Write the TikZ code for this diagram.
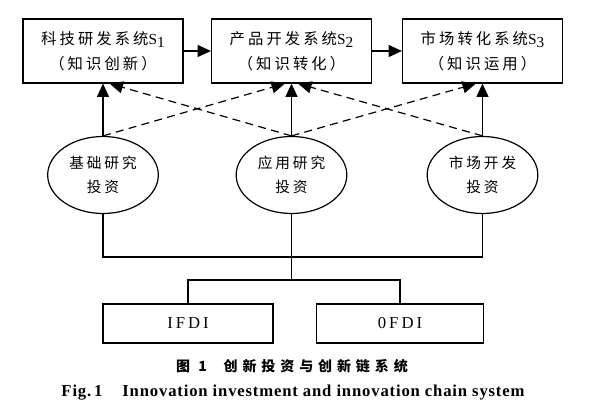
\documentclass[tikz,border=0pt]{standalone}
\usepackage{fontspec}
\setmainfont{Liberation Serif}
\newfontfamily\cjk{Noto Sans CJK SC}[LetterSpace=20]
\newfontfamily\cjkcap{Noto Sans CJK SC}[LetterSpace=35]
\newfontfamily\capfont{Liberation Serif}[LetterSpace=5]
\newfontfamily\fdifont{Liberation Serif}[LetterSpace=18]
\usetikzlibrary{arrows.meta,shapes.geometric}

\newcommand{\sysname}[2]{{\cjk #1}S\raisebox{-0.25em}{#2}}

\begin{document}
\begin{tikzpicture}[x=0.75pt,y=-0.75pt]
\tikzstyle{every node}+=[inner sep=0pt, align=center]
\tikzstyle{sysbox}=[draw, line width=0.9pt, minimum width=120pt, minimum height=48pt, font=\fontsize{11.5}{19}\selectfont]
\tikzstyle{invest}=[draw, ellipse, line width=0.9pt, minimum width=83pt, minimum height=57.75pt, font=\cjk\fontsize{11}{18}\selectfont]
\tikzstyle{fdibox}=[draw, line width=0.9pt, minimum height=29.25pt, font=\fdifont\fontsize{12.5}{14}\selectfont]
\tikzstyle{tip}=[-{Triangle[length=10pt,width=9pt]}, line width=0.9pt]
\tikzstyle{cross}=[tip, dash pattern=on 6pt off 4pt]
\useasboundingbox (0,0) rectangle (600,409);

% innovation chain
\node[sysbox] (s1) at (103,51) {\sysname{科技研发系统}{1}\\{\cjk （知识创新）}};
\node[sysbox] (s2) at (291.5,51) {\sysname{产品开发系统}{2}\\{\cjk （知识转化）}};
\node[sysbox] (s3) at (482.5,51) {\sysname{市场转化系统}{3}\\{\cjk （知识运用）}};
\draw[tip] (s1.east) -- (s2.west);
\draw[tip] (s2.east) -- (s3.west);

% investments
\node[invest] (basic) at (103,175) {基础研究\\投资};
\node[invest] (applied) at (291.5,175) {应用研究\\投资};
\node[invest] (market) at (482.5,175) {市场开发\\投资};
\draw[tip] (basic.north) -- (s1.south);
\draw[tip] (applied.north) -- (s2.south);
\draw[tip] (market.north) -- (s3.south);
\draw[cross] (basic.north) -- ([xshift=-5pt]s2.south);
\draw[cross] (applied.north) -- ([xshift=5pt]s1.south);
\draw[cross] (applied.north) -- ([xshift=-5pt]s3.south);
\draw[cross] (market.north) -- ([xshift=5pt]s2.south);

% FDI
\node[fdibox, minimum width=127.5pt] (ifdi) at (188,323.5) {IFDI};
\node[fdibox, minimum width=125.25pt] (ofdi) at (400,323.5) {0FDI};
\coordinate (bus) at (291.5,257);
\coordinate (split) at (291.5,280);
\draw[line width=0.9pt] (basic.south) |- (bus) -| (market.south);
\draw[line width=0.9pt] (applied.south) -- (split);
\draw[line width=0.9pt] (ifdi.north) |- (split) -| (ofdi.north);

% caption
\node[font=\cjkcap\bfseries\fontsize{10.5}{12}\selectfont] (capzh) at (292,366) {图 1\hspace{1.2em}创新投资与创新链系统};
\node[font=\capfont\bfseries\fontsize{12.5}{14}\selectfont] (capen) at (293,393) {Fig.\,1\hspace{1.2em}Innovation investment and innovation chain system};
\end{tikzpicture}
\end{document}
